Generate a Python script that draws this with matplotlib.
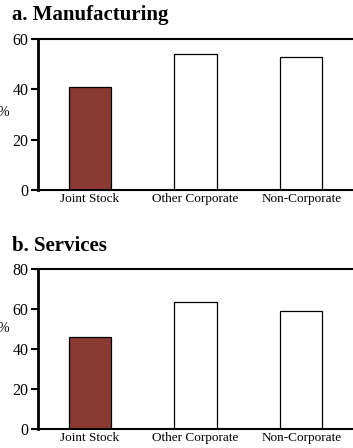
import matplotlib
matplotlib.use("Agg")
import matplotlib.pyplot as plt

categories = ["Joint Stock", "Other Corporate", "Non-Corporate"]
manufacturing = [40.8, 53.9, 53.0]
services = [46.2, 63.5, 59.0]
titles = ["a. Manufacturing", "b. Services"]
ylims = [60, 80]
yticks = [[0, 20, 40, 60], [0, 20, 40, 60, 80]]

plt.rcParams['font.family'] = ['Liberation Serif', 'DejaVu Serif']

fig = plt.figure(figsize=(3.53, 4.48), dpi=100)
W, H = 353, 448
panels = [(38, 39, 190, 15, 112), (38, 269.3, 429, 246, 328)]
colors = ["#8B3A32", "white", "white"]

for i, (vals, title, ylim, yt) in enumerate(zip([manufacturing, services], titles, ylims, yticks)):
    left, top, bottom, ty, py = panels[i]
    ax = fig.add_axes([left / W, 1 - bottom / H, 1 - left / W, (bottom - top) / H])
    x = list(range(len(categories)))
    ax.bar(x, vals, width=0.4, color=colors, edgecolor="black", linewidth=0.9)
    ax.set_xlim(-0.49, 2.49)
    ax.set_ylim(0, ylim)
    ax.set_yticks(yt)
    ax.set_xticks(x)
    ax.set_xticklabels(categories, fontsize=9.5)
    ax.tick_params(axis='x', length=0, pad=2)
    ax.tick_params(axis='y', length=5, width=1.5, labelsize=11.5, pad=2)
    ax.spines['left'].set_linewidth(2)
    ax.spines['top'].set_linewidth(1.5)
    ax.spines['bottom'].set_linewidth(1.5)
    ax.spines['right'].set_visible(False)
    fig.text(12 / W, 1 - ty / H, title, fontsize=15, fontweight='bold', va='center', ha='left')
    fig.text(-2 / W, 1 - py / H, "%", fontsize=10, va='center', ha='left')

fig.savefig("out.png", dpi=100)
